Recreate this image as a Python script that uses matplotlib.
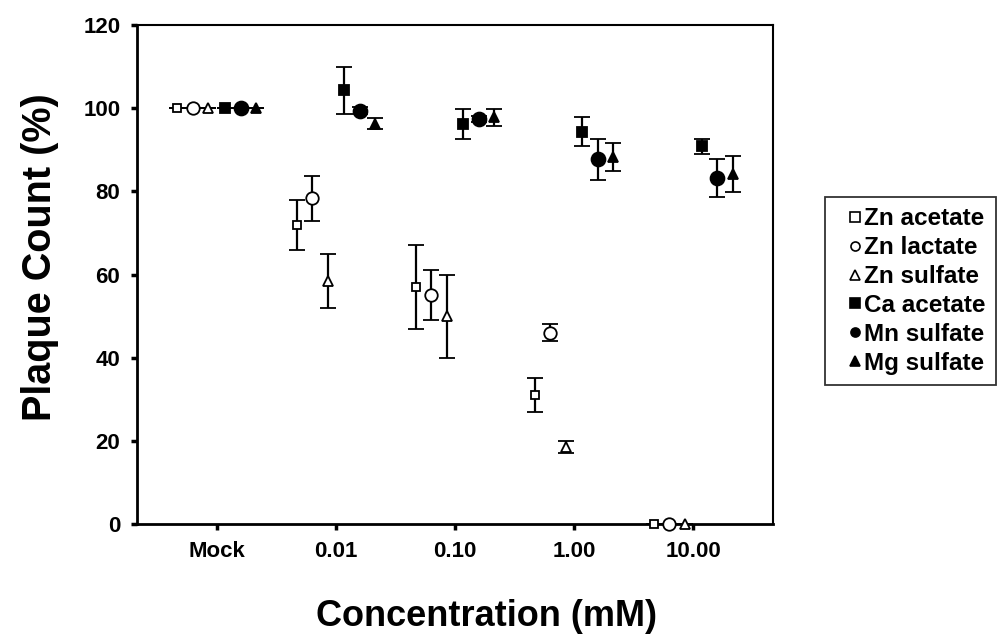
import matplotlib
matplotlib.use("Agg")
import matplotlib.pyplot as plt
import numpy as np

plt.rcParams["font.family"] = ["Liberation Sans", "DejaVu Sans"]
plt.rcParams["font.weight"] = "bold"

conc_labels = ["Mock", "0.01", "0.10", "1.00", "10.00"]

series_names = ["Zn acetate", "Zn lactate", "Zn sulfate", "Ca acetate", "Mn sulfate", "Mg sulfate"]

zn_acetate = [100, 72, 57, 31, 0]
zn_acetate_err = [0, 6, 10, 4, 0]
zn_lactate = [100, 78.3, 55, 46, 0]
zn_lactate_err = [0, 5.5, 6, 2, 0]
zn_sulfate = [100, 58.5, 50, 18.5, 0]
zn_sulfate_err = [0, 6.5, 10, 1.5, 0]
ca_acetate = [100, 104.3, 96.2, 94.3, 90.9]
ca_acetate_err = [0, 5.7, 3.6, 3.5, 1.8]
mn_sulfate = [100, 99.4, 97.4, 87.7, 83.2]
mn_sulfate_err = [0, 0.8, 0.8, 4.9, 4.6]
mg_sulfate = [100, 96.3, 97.8, 88.3, 84.2]
mg_sulfate_err = [0, 1.4, 2.0, 3.4, 4.4]

values = [zn_acetate, zn_lactate, zn_sulfate, ca_acetate, mn_sulfate, mg_sulfate]
errors = [zn_acetate_err, zn_lactate_err, zn_sulfate_err, ca_acetate_err, mn_sulfate_err, mg_sulfate_err]
markers = ["s", "o", "^", "s", "o", "^"]
fills = ["white", "white", "white", "black", "black", "black"]
sizes = [6, 9, 6.5, 7, 10, 7.5]
offsets = [-0.33, -0.2, -0.07, 0.07, 0.2, 0.33]

fig = plt.figure(figsize=(10, 6.34), dpi=100)
ax = fig.add_axes([0.137, 0.1735, 0.636, 0.787])

x = np.arange(len(conc_labels))
for name, v, e, m, fc, ms, off in zip(series_names, values, errors, markers, fills, sizes, offsets):
    ax.errorbar(x + off, v, yerr=e, fmt=m, mfc=fc, mec="black", ms=ms, mew=1.3,
                ecolor="black", elinewidth=1.6, capsize=6, capthick=1.6,
                color="black", label=name, clip_on=False, zorder=3)

ax.set_xlim(-0.67, 4.67)
ax.set_ylim(0, 120)
ax.set_xticks(x)
ax.set_xticklabels(conc_labels, fontsize=16, fontweight="bold")
ax.set_yticks(np.arange(0, 121, 20))
ax.set_yticklabels([str(t) for t in range(0, 121, 20)], fontsize=16, fontweight="bold")
ax.tick_params(direction="out", length=4, width=2.5, pad=8)

for s in ["left", "bottom"]:
    ax.spines[s].set_linewidth(2)
for s in ["top", "right"]:
    ax.spines[s].set_linewidth(1.5)

ax.set_ylabel("Plaque Count (%)", fontsize=28.5, fontweight="bold")
ax.yaxis.set_label_coords(-0.122, 0.535)
ax.set_xlabel("Concentration (mM)", fontsize=26, fontweight="bold")
ax.xaxis.set_label_coords(0.549, -0.150)

handles = []
for name, m, fc in zip(series_names, markers, fills):
    h, = ax.plot([], [], m, mfc=fc, mec="black", ms=6.5, mew=1.2, color="black", label=name)
    handles.append(h)
leg = fig.legend(handles=handles, labels=series_names, loc="upper left",
                 bbox_to_anchor=(0.825, 0.689), borderaxespad=0, frameon=True, fancybox=False,
                 edgecolor="black", handlelength=1.6, handletextpad=-0.4,
                 labelspacing=0.24, borderpad=0.42, prop={"weight": "bold", "size": 17.5})
leg.get_frame().set_linewidth(1.3)

fig.savefig("out.png", dpi=100)
